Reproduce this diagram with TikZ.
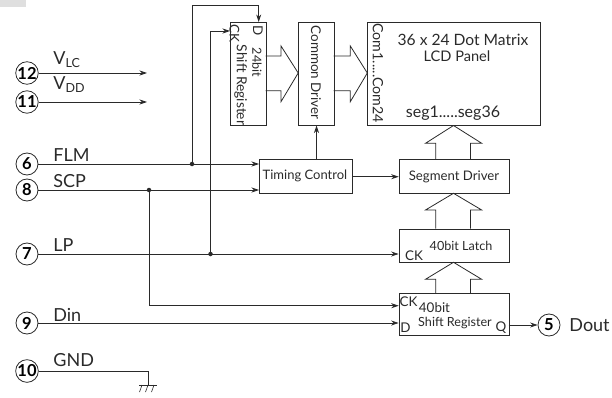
\documentclass[tikz,border=0pt]{standalone}
\usepackage{fontspec}
\setmainfont{Lato}
\usepackage{xcolor}
\usetikzlibrary{arrows.meta}
\definecolor{inkline}{HTML}{2A2A2A}
\definecolor{cornergray}{HTML}{DFDFDF}
\newcommand{\txtM}{\fontsize{12.6}{14}\selectfont}
\newcommand{\txtB}{\fontsize{13.4}{14.5}\selectfont}
\newcommand{\txtL}{\fontsize{18}{19}\selectfont}
\begin{document}
\begin{tikzpicture}[
          x=1pt, y=-1pt,
          line width=0.8pt,
          blk/.style={rectangle, draw=inkline, inner sep=0pt, anchor=north west},
          pin/.style={circle, draw=inkline, inner sep=0pt, minimum size=22pt,
                      font=\fontsize{16.5}{17}\selectfont\bfseries},
          arr/.style={-{Stealth[length=7.5pt,width=5pt]}, inkline},
          wire/.style={inkline},
          dot/.style={circle, fill=inkline, inner sep=0pt, minimum size=4.5pt},
          sig/.style={anchor=base west, font=\txtL, inner sep=0pt, text=inkline},
          lab/.style={font=\txtM, inner sep=0pt, align=center, text=inkline},
          vlab/.style={font=\txtB, inner sep=0pt, rotate=-90, text=inkline}
        ]
        \useasboundingbox (0,0) rectangle (612,398);
        \fill[cornergray] (0,0) rectangle (26,7);
        %% Blocks
        \node[blk, minimum width=35.5pt, minimum height=103.5pt] (sr24) at (230,22) {};
        \node[blk, minimum width=35.5pt, minimum height=103.5pt] (comdrv) at (298.2,22) {};
        \node[blk, minimum width=172.7pt, minimum height=103.5pt] (lcd) at (367.3,22) {};
        \node[blk, minimum width=92.7pt, minimum height=34pt] (timing) at (259,159.3) {};
        \node[blk, minimum width=110pt, minimum height=34pt] (segdrv) at (398.7,159.3) {};
        \node[blk, minimum width=110pt, minimum height=33.6pt] (latch) at (398.7,228.7) {};
        \node[blk, minimum width=110pt, minimum height=41.4pt] (sr40) at (398.7,293.3) {};
        %% Pins
        \node[pin] (pin12) at (27,73) {12};
        \node[pin] (pin11) at (27,102) {11};
        \node[pin] (pin6) at (27,164) {6};
        \node[pin] (pin8) at (27,190) {8};
        \node[pin] (pin7) at (27,254) {7};
        \node[pin] (pin9) at (27,323) {9};
        \node[pin] (pin10) at (27,371) {10};
        \node[pin] (pin5) at (549,325) {5};
        %% Pin names
        \node[sig] (vlcname) at (53,64.5) {V\fontsize{12.5}{13}\selectfont\raisebox{-3pt}{LC}};
        \node[sig] (vddname) at (53,90) {V\fontsize{12.5}{13}\selectfont\raisebox{-3pt}{DD}};
        \node[sig] (flmname) at (53,161) {FLM};
        \node[sig] (scpname) at (53,187) {SCP};
        \node[sig] (lpname) at (53,251) {LP};
        \node[sig] (dinname) at (53,321) {Din};
        \node[sig] (gndname) at (53,366) {GND};
        \node[sig] (doutname) at (569,331.5) {Dout};
        %% Block texts
        \node[vlab] (srd) at (258,31) {D};
        \node[vlab, font=\txtM] (srbits) at (257,62.5) {24bit};
        \node[vlab] (srck) at (234.5,33.5) {CK};
        \node[vlab, font=\fontsize{13.8}{15}\selectfont] (srname) at (240.7,85) {Shift Register};
        \node[vlab] (comname) at (316,72.5) {Common Driver};
        \node[vlab, font=\fontsize{14.2}{15}\selectfont] (comrange) at (378,73) {Com1.....Com24};
        \node[lab, font=\fontsize{15.6}{16}\selectfont] (lcdname) at (463,40) {36 x 24 Dot Matrix};
        \node[lab, font=\fontsize{14.6}{16}\selectfont] (lcdpanel) at (457,56) {LCD Panel};
        \node[lab, font=\fontsize{16}{17}\selectfont] (segrange) at (453,113) {seg1.....seg36};
        \node[lab, font=\fontsize{13}{14}\selectfont] (timingname) at (305,176) {Timing Control};
        \node[lab, font=\fontsize{13.2}{14}\selectfont] (segname) at (454,177) {Segment Driver};
        \node[lab, font=\txtB] (latchck) at (414,256) {CK};
        \node[lab] (latchname) at (461,246) {40bit Latch};
        \node[lab, font=\txtB] (sr40ck) at (408.5,302) {CK};
        \node[lab, font=\fontsize{13.4}{14}\selectfont] (sr40bits) at (434.5,308) {40bit};
        \node[lab] (sr40name) at (455,323) {Shift Register};
        \node[lab, font=\txtB] (sr40d) at (405.5,328) {D};
        \node[lab, font=\txtB] (sr40q) at (501,328) {Q};
        %% Junctions
        \coordinate (flmdot) at (192,164);
        \coordinate (scpdot) at (149,190);
        \coordinate (lpdot) at (210.5,254);
        \coordinate (vlcend) at (147,73);
        \coordinate (vddend) at (147,102);
        \coordinate (gndend) at (148,385);
        %% Signals
        \draw[arr] (pin12) -- (vlcend);
        \draw[arr] (pin11) -- (vddend);
        \draw[arr] (pin6) -- (pin6 -| timing.west);
        \draw[arr] (pin8) -- (pin8 -| timing.west);
        \draw[arr] (pin7) -- (pin7 -| latch.west);
        \draw[arr] (pin9) -- (pin9 -| sr40.west);
        \draw[arr] (flmdot) |- (192,5) -| (258.7,22);
        \draw[arr] (lpdot) |- (230,31);
        \draw[arr] (scpdot) |- (398.7,305.7);
        \draw[arr] (316.5,159.3) -- (316.5,125.5);
        \draw[arr] (timing.east) -- (segdrv.west);
        \draw[arr] (508.7,325) -- (pin5);
        \node[dot] (flmjoin) at (flmdot) {};
        \node[dot] (scpjoin) at (scpdot) {};
        \node[dot] (lpjoin) at (lpdot) {};
        %% Ground
        \draw[wire] (pin10) -| (gndend);
        \draw[wire] (139,385) -- (157,385);
        \foreach \gx in {142,148,154} {
          \draw[wire, line width=0.6pt] (\gx,385) -- (\gx-2.5,392);
        }
        %% Bus arrows
        \draw[wire] (265.5,56) -- (281,56) -- (281,46) -- (298.2,73)
              -- (281,101.7) -- (281,90.7) -- (265.5,90.7);
        \draw[wire] (333.7,56) -- (350.3,56) -- (350.3,46) -- (367.3,73)
              -- (350.3,101.7) -- (350.3,90.7) -- (333.7,90.7);
        \draw[wire] (435.7,159.3) -- (435.7,143.3) -- (425.5,143.3) -- (453.5,125.5)
              -- (481.7,143.3) -- (470.5,143.3) -- (470.5,159.3);
        \draw[wire] (435.7,228.7) -- (435.7,210) -- (425.5,210) -- (453.5,193.3)
              -- (481.7,210) -- (470.5,210) -- (470.5,228.7);
        \draw[wire] (435.7,293.3) -- (435.7,279.3) -- (425.5,279.3) -- (453.5,262.3)
              -- (481.7,279.3) -- (470.5,279.3) -- (470.5,293.3);
      \end{tikzpicture}
\end{document}
